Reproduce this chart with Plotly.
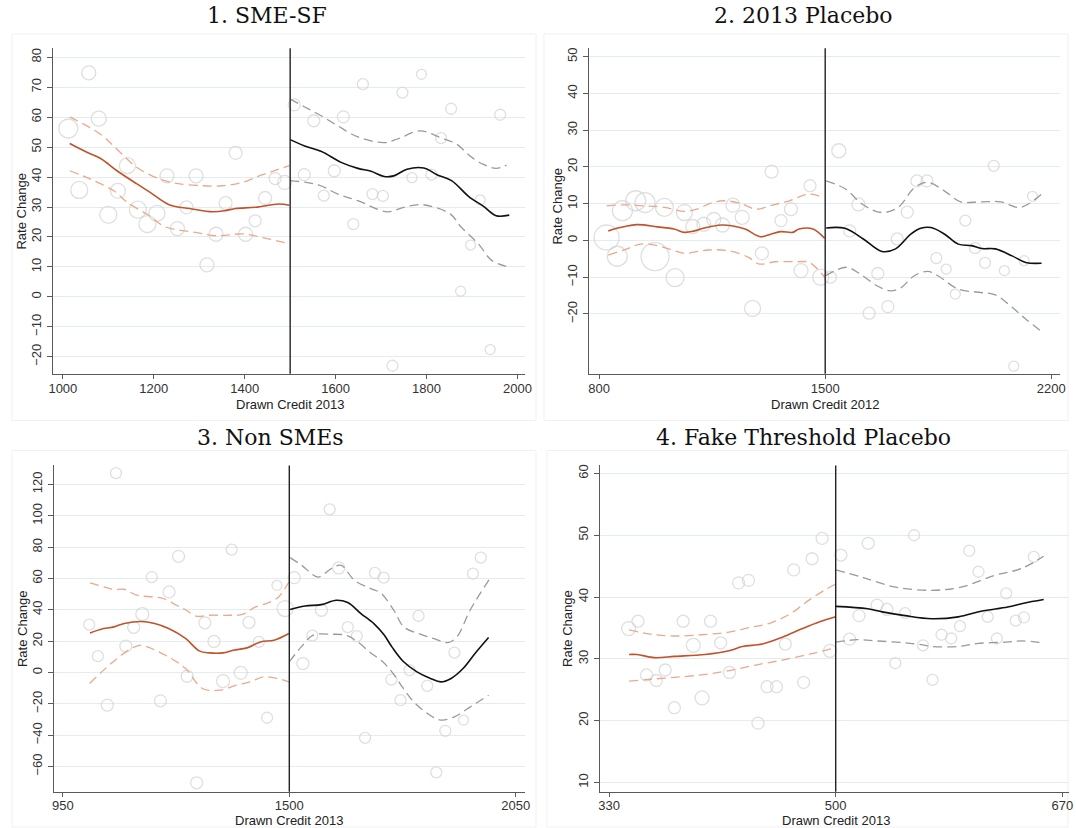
import plotly.graph_objects as go

W, H = 1076, 828

# ---------------- Panel 1: SME-SF ----------------
p1_bx = [1012, 1036, 1057, 1079, 1100, 1121, 1142, 1165, 1186, 1207, 1229, 1252, 1272, 1293, 1317, 1337, 1358, 1380, 1402, 1423, 1445, 1467, 1488,
         1509, 1531, 1552, 1574, 1597, 1617, 1639, 1660, 1681, 1704, 1725, 1747, 1768, 1789, 1811, 1832, 1854, 1875, 1897, 1918, 1940, 1962]
p1_by = [56.2, 35.7, 74.8, 59.5, 27.4, 35.4, 43.8, 29.1, 24.3, 27.9, 40.4, 22.8, 29.9, 40.4, 10.7, 20.9, 31.3, 48.1, 20.9, 25.4, 33.0, 39.5, 38.2,
         64.1, 40.8, 58.8, 33.8, 42.1, 60.1, 24.3, 71.0, 34.3, 33.7, -23.0, 68.2, 39.8, 74.3, 40.8, 53.0, 62.8, 1.9, 17.3, 32.4, -17.6, 60.8]
p1_bw = [19, 17, 14, 15, 17, 15, 16, 17, 17, 16, 14, 14, 13, 14, 14, 14, 13, 13, 14, 12, 13, 12, 14,
         12, 12, 12, 11, 12, 12, 11, 11, 11, 11, 11, 11, 10, 10, 11, 11, 11, 10, 10, 10, 10, 11]
p1_L_fit_x = [1015, 1054, 1083, 1119, 1163, 1192, 1235, 1279, 1330, 1358, 1380, 1424, 1475, 1498]
p1_L_fit_y = [51.2, 48.2, 46.2, 42.1, 37.7, 34.9, 30.7, 29.5, 28.4, 28.8, 29.5, 29.9, 31.0, 30.6]
p1_L_hi_x = [1015, 1083, 1119, 1163, 1214, 1250, 1308, 1351, 1395, 1438, 1498]
p1_L_hi_y = [60.1, 54.3, 49.3, 43.2, 39.3, 37.9, 37.1, 37.1, 38.2, 40.7, 43.8]
p1_L_lo_x = [1015, 1061, 1112, 1142, 1187, 1225, 1292, 1337, 1397, 1442, 1498]
p1_L_lo_y = [42.1, 39.3, 35.4, 31.5, 27.4, 23.4, 21.5, 20.4, 21.0, 19.7, 17.7]
p1_R_fit_x = [1500, 1532, 1569, 1612, 1649, 1678, 1707, 1728, 1757, 1794, 1823, 1855, 1895, 1924, 1953, 1982]
p1_R_fit_y = [52.5, 50.4, 48.5, 44.9, 42.9, 41.9, 40.2, 40.4, 42.6, 43.0, 40.8, 38.8, 33.2, 30.4, 27.1, 27.3]
p1_R_hi_x = [1500, 1532, 1569, 1605, 1649, 1707, 1736, 1786, 1830, 1866, 1895, 1924, 1953, 1976]
p1_R_hi_y = [66.0, 63.4, 60.4, 57.1, 53.4, 51.5, 52.7, 55.4, 53.2, 51.0, 47.1, 44.3, 42.9, 44.0]
p1_R_lo_x = [1500, 1562, 1605, 1649, 1714, 1750, 1790, 1852, 1875, 1914, 1944, 1984]
p1_R_lo_y = [38.8, 37.4, 34.3, 32.1, 28.4, 29.9, 30.8, 27.7, 23.5, 17.7, 12.1, 9.9]

# ---------------- Panel 2: 2013 Placebo ----------------
p2_bx = [823, 856, 872, 913, 942, 973, 1002, 1035, 1064, 1090, 1124, 1155, 1182, 1214, 1243, 1275, 1304, 1334, 1363, 1394, 1425, 1453, 1486,
         1516, 1542, 1576, 1603, 1636, 1663, 1694, 1723, 1754, 1784, 1815, 1844, 1875, 1903, 1934, 1964, 1995, 2022, 2055, 2084, 2116, 2142]
p2_by = [0.8, -4.3, 8.1, 10.8, 10.3, -4.4, 9.0, -10.1, 7.6, 3.8, 4.4, 5.7, 4.2, 9.6, 6.3, -18.5, -3.5, 18.7, 5.4, 8.5, -8.2, 14.9, -10.0,
         -10.0, 24.4, 2.6, 9.8, -19.8, -9.0, -18.0, 0.4, 7.7, 16.2, 16.2, -4.8, -7.8, -14.6, 5.4, -2.1, -6.1, 20.3, -8.2, -34.2, -5.5, 12.0]
p2_bw = [25, 20, 20, 20, 20, 28, 18, 18, 16, 14, 14, 14, 14, 14, 14, 16, 13, 13, 12, 13, 14, 12, 16,
         12, 14, 12, 13, 12, 12, 12, 12, 12, 12, 12, 11, 10, 10, 11, 11, 11, 11, 10, 10, 10, 10]
p2_L_fit_x = [828, 865, 917, 980, 1032, 1064, 1095, 1126, 1179, 1210, 1252, 1299, 1331, 1362, 1399, 1419, 1462, 1498]
p2_L_fit_y = [2.6, 3.5, 4.3, 3.7, 3.1, 2.2, 2.6, 3.4, 4.2, 4.0, 3.1, 1.0, 1.7, 2.4, 2.2, 3.1, 3.1, 0.6]
p2_L_hi_x = [823, 879, 940, 1002, 1063, 1103, 1144, 1185, 1236, 1287, 1328, 1389, 1450, 1493]
p2_L_hi_y = [9.4, 9.7, 9.4, 9.0, 7.9, 8.5, 10.1, 10.8, 10.1, 8.5, 9.4, 10.8, 12.6, 11.7]
p2_L_lo_x = [828, 886, 928, 980, 1032, 1064, 1137, 1200, 1263, 1294, 1346, 1409, 1451, 1498]
p2_L_lo_y = [-4.0, -2.3, -1.0, -1.4, -2.8, -3.5, -2.6, -2.8, -4.6, -6.4, -5.8, -5.8, -6.0, -10.0]
p2_R_fit_x = [1503, 1561, 1618, 1676, 1718, 1765, 1796, 1828, 1870, 1912, 1953, 1985, 2027, 2079, 2121, 2170]
p2_R_fit_y = [3.4, 3.3, 0.4, -3.0, -2.3, 1.7, 3.3, 3.5, 1.7, -1.0, -1.4, -2.2, -2.3, -4.2, -6.0, -6.2]
p2_R_hi_x = [1502, 1563, 1614, 1675, 1726, 1777, 1818, 1869, 1920, 1981, 2043, 2104, 2170]
p2_R_hi_y = [16.2, 14.0, 9.9, 7.6, 9.0, 14.4, 15.8, 13.5, 10.5, 10.5, 10.5, 9.0, 12.6]
p2_R_lo_x = [1501, 1566, 1608, 1660, 1702, 1734, 1776, 1817, 1849, 1911, 1974, 2027, 2079, 2121, 2170]
p2_R_lo_y = [-9.6, -7.3, -9.1, -12.3, -13.7, -12.9, -9.6, -8.4, -9.6, -13.2, -14.1, -14.8, -18.2, -21.4, -24.8]

# ---------------- Panel 3: Non SMEs ----------------
p3_bx = [1014, 1035, 1058, 1079, 1103, 1122, 1143, 1166, 1187, 1208, 1231, 1252, 1275, 1295, 1317, 1339, 1360, 1382, 1402, 1426, 1446, 1470, 1490,
         1512, 1533, 1556, 1578, 1598, 1620, 1642, 1664, 1684, 1708, 1729, 1748, 1770, 1792, 1814, 1835, 1857, 1879, 1901, 1923, 1946, 1965]
p3_by = [30.5, 10.4, -20.8, 127.2, 16.8, 28.8, 37.2, 60.9, -18.1, 51.4, 74.1, -2.4, -70.4, 31.7, 19.8, -5.5, 78.4, -0.2, 32.0, 19.5, -28.9, 55.6, 40.8,
         60.5, 5.7, 23.5, 39.7, 104.1, 66.7, 28.9, 23.2, -41.7, 63.5, 60.5, -4.5, -17.7, 1.5, 36.1, -8.5, -63.7, -37.2, 12.7, -30.4, 63.1, 73.3]
p3_bw = [11, 11, 12, 11, 12, 12, 13, 11, 12, 12, 12, 12, 12, 12, 12, 13, 11, 13, 12, 11, 11, 10, 16,
         12, 12, 11, 12, 11, 12, 11, 11, 11, 11, 11, 11, 11, 11, 11, 11, 11, 11, 11, 10, 11, 11]
p3_L_fit_x = [1016, 1049, 1074, 1099, 1140, 1173, 1207, 1248, 1281, 1306, 1339, 1364, 1397, 1430, 1463, 1499]
p3_L_fit_y = [25.2, 28.0, 29.1, 31.2, 32.5, 31.2, 28.0, 21.7, 13.8, 12.5, 12.5, 14.2, 15.7, 19.5, 20.6, 24.9]
p3_L_hi_x = [1016, 1050, 1074, 1098, 1130, 1170, 1194, 1226, 1250, 1274, 1306, 1354, 1386, 1418, 1450, 1474, 1499]
p3_L_hi_y = [57.1, 54.6, 52.9, 53.1, 49.3, 48.2, 47.2, 42.9, 39.7, 35.9, 36.5, 36.5, 37.0, 41.8, 44.6, 48.2, 57.7]
p3_L_lo_x = [1015, 1049, 1082, 1116, 1140, 1165, 1207, 1248, 1289, 1330, 1372, 1405, 1438, 1471, 1499]
p3_L_lo_y = [-7.0, 1.5, 8.9, 15.3, 17.4, 15.3, 9.9, 2.5, -10.2, -11.3, -8.1, -6.0, -2.8, -3.8, -6.0]
p3_R_fit_x = [1502, 1538, 1578, 1614, 1642, 1674, 1706, 1730, 1750, 1777, 1810, 1843, 1868, 1893, 1922, 1951, 1984]
p3_R_fit_y = [40.2, 42.4, 43.3, 46.1, 44.6, 37.6, 31.0, 24.0, 16.0, 7.0, 0.4, -3.8, -6.0, -3.8, 2.5, 12.1, 22.3]
p3_R_hi_x = [1502, 1530, 1570, 1602, 1626, 1658, 1698, 1722, 1754, 1778, 1818, 1850, 1885, 1907, 1939, 1987]
p3_R_hi_y = [73.3, 68.4, 60.9, 66.3, 68.4, 58.8, 53.5, 50.7, 39.7, 29.1, 24.4, 21.7, 19.1, 22.7, 39.7, 59.9]
p3_R_lo_x = [1500, 1529, 1558, 1604, 1637, 1661, 1695, 1727, 1752, 1777, 1802, 1835, 1868, 1901, 1934, 1984]
p3_R_lo_y = [6.8, 16.3, 23.8, 24.4, 23.8, 20.6, 13.1, 6.8, -0.6, -10.2, -18.7, -26.1, -30.4, -28.3, -22.9, -14.5]

# ---------------- Panel 4: Fake Threshold Placebo ----------------
p4_bx = [344.7, 351.7, 358.1, 365.5, 372.1, 379.0, 385.6, 393.2, 399.8, 406.1, 413.7, 420.3, 427.2, 434.6, 441.7, 448.5, 455.6, 462.2, 468.5, 475.9, 482.3, 489.8, 495.7,
         503.9, 510.4, 517.5, 524.4, 531.1, 538.5, 544.7, 552.1, 558.8, 565.5, 572.6, 579.4, 586.6, 593.2, 600.2, 607.1, 614.0, 620.9, 627.9, 635.0, 641.2, 648.6]
p4_by = [34.9, 36.1, 27.4, 26.5, 28.2, 22.1, 36.1, 32.2, 23.7, 36.1, 32.6, 27.8, 42.3, 42.7, 19.6, 25.5, 25.5, 32.4, 44.4, 26.2, 46.2, 49.5, 31.3,
         46.8, 33.2, 37.0, 48.7, 38.7, 38.0, 29.3, 37.4, 50.0, 32.2, 26.6, 33.9, 33.3, 35.3, 47.5, 44.1, 36.8, 33.3, 40.6, 36.2, 36.7, 46.5]
p4_bw = [14, 12, 12, 12, 12, 12, 12, 14, 14, 12, 12, 12, 12, 12, 12, 12, 12, 12, 12, 12, 12, 12, 13,
         12, 12, 12, 12, 12, 12, 11, 11, 11, 11, 11, 11, 11, 11, 11, 11, 11, 11, 11, 11, 11, 11]
p4_L_fit_x = [345, 351, 364, 379, 402, 420, 430, 445, 460, 475, 488, 500]
p4_L_fit_y = [30.7, 30.7, 30.2, 30.4, 30.7, 31.3, 32.0, 32.4, 33.5, 34.9, 36.0, 36.8]
p4_L_hi_x = [345, 361, 379, 399, 419, 436, 451, 466, 480, 493, 500]
p4_L_hi_y = [34.7, 34.0, 33.7, 33.9, 34.3, 35.1, 35.8, 37.3, 39.5, 41.3, 42.1]
p4_L_lo_x = [345, 361, 379, 399, 420, 440, 460, 481, 498]
p4_L_lo_y = [26.4, 26.7, 27.0, 27.4, 28.1, 29.0, 29.8, 30.8, 31.7]
p4_R_fit_x = [500, 524, 535, 552, 572, 592, 609, 629, 641, 656]
p4_R_fit_y = [38.5, 38.1, 37.6, 37.0, 36.5, 36.8, 37.7, 38.4, 39.0, 39.6]
p4_R_hi_x = [500, 520, 545, 572, 594, 619, 639, 656]
p4_R_hi_y = [44.4, 43.2, 41.6, 41.1, 41.6, 43.5, 44.6, 46.6]
p4_R_lo_x = [500, 516, 531, 552, 564, 572, 592, 607, 628, 640, 655]
p4_R_lo_y = [32.7, 33.1, 32.9, 32.6, 32.3, 32.0, 32.0, 32.5, 32.7, 32.9, 32.6]

titles = ["1. SME-SF", "2. 2013 Placebo", "3. Non SMEs", "4. Fake Threshold Placebo"]
xtitles = ["Drawn Credit 2013", "Drawn Credit 2012", "Drawn Credit 2013", "Drawn Credit 2013"]
cutoffs = [1500, 1500, 1500, 500]
xtickvals = [[1000, 1200, 1400, 1600, 1800, 2000], [800, 1500, 2200], [950, 1500, 2050], [330, 500, 670]]
ytickvals = [list(range(-20, 81, 10)), list(range(-20, 51, 10)), list(range(-60, 121, 20)), list(range(10, 61, 10))]

# ---------------- styling / layout (pixels) ----------------
ORANGE = "#c0532b"
ORANGE_LT = "#eaa98b"
GRAY_D = "#9a9a9a"
MARK = "#d2d2d2"
AX = "#5a5a5a"
GRID = "#e3ecef"
SANS = "Liberation Sans, Arial, sans-serif"
SERIF = "DejaVu Serif, Liberation Serif, serif"

panels = [
    dict(bx=p1_bx, by=p1_by, bw=p1_bw,
         lines=[(p1_L_fit_x, p1_L_fit_y, ORANGE, "solid"), (p1_L_hi_x, p1_L_hi_y, ORANGE_LT, "dash"), (p1_L_lo_x, p1_L_lo_y, ORANGE_LT, "dash"),
                (p1_R_fit_x, p1_R_fit_y, "#111111", "solid"), (p1_R_hi_x, p1_R_hi_y, GRAY_D, "dash"), (p1_R_lo_x, p1_R_lo_y, GRAY_D, "dash")],
         dom=(49, 525.8, 47.3, 373.3), xr=(979.3, 2016.5), yr=(-25.7, 83.0),
         title=(265, 15), xt=(288, 404), yt=(17, 210), box=(7, 33, 537, 420)),
    dict(bx=p2_bx, by=p2_by, bw=p2_bw,
         lines=[(p2_L_fit_x, p2_L_fit_y, ORANGE, "solid"), (p2_L_hi_x, p2_L_hi_y, ORANGE_LT, "dash"), (p2_L_lo_x, p2_L_lo_y, ORANGE_LT, "dash"),
                (p2_R_fit_x, p2_R_fit_y, "#111111", "solid"), (p2_R_hi_x, p2_R_hi_y, GRAY_D, "dash"), (p2_R_lo_x, p2_R_lo_y, GRAY_D, "dash")],
         dom=(590.7, 1066.5, 47.3, 373.3), xr=(768.8, 2226), yr=(-36.3, 52.3),
         title=(808, 15), xt=(829, 404), yt=(559, 205), box=(545, 33, 1075, 420)),
    dict(bx=p3_bx, by=p3_by, bw=p3_bw,
         lines=[(p3_L_fit_x, p3_L_fit_y, ORANGE, "solid"), (p3_L_hi_x, p3_L_hi_y, ORANGE_LT, "dash"), (p3_L_lo_x, p3_L_lo_y, ORANGE_LT, "dash"),
                (p3_R_fit_x, p3_R_fit_y, "#111111", "solid"), (p3_R_hi_x, p3_R_hi_y, GRAY_D, "dash"), (p3_R_lo_x, p3_R_lo_y, GRAY_D, "dash")],
         dom=(50, 525.8, 465, 791.7), xr=(929.6, 2072.3), yr=(-76.1, 132.1),
         title=(268, 437), xt=(287, 820.5), yt=(17, 628), box=(7, 450, 537, 827)),
    dict(bx=p4_bx, by=p4_by, bw=p4_bw,
         lines=[(p4_L_fit_x, p4_L_fit_y, ORANGE, "solid"), (p4_L_hi_x, p4_L_hi_y, ORANGE_LT, "dash"), (p4_L_lo_x, p4_L_lo_y, ORANGE_LT, "dash"),
                (p4_R_fit_x, p4_R_fit_y, "#111111", "solid"), (p4_R_hi_x, p4_R_hi_y, GRAY_D, "dash"), (p4_R_lo_x, p4_R_lo_y, GRAY_D, "dash")],
         dom=(601.7, 1076, 465, 791.7), xr=(323.2, 675.0), yr=(8.5, 61.3),
         title=(808, 437), xt=(840, 820.5), yt=(569, 628), box=(548, 450, 1075, 827)),
]


def fx(p):
    return p / W


def fy(p):
    return 1 - p / H


fig = go.Figure()
layout = dict(width=W, height=H, margin=dict(l=0, r=0, t=0, b=0),
              paper_bgcolor="white", plot_bgcolor="white", showlegend=False)
annotations = []
shapes = []

for i, pn in enumerate(panels):
    n = i + 1
    xa = "x" if n == 1 else f"x{n}"
    ya = "y" if n == 1 else f"y{n}"
    l, r, t, b = pn["dom"]
    layout["xaxis" if n == 1 else f"xaxis{n}"] = dict(
        domain=[fx(l), fx(r)], range=list(pn["xr"]), anchor=ya,
        showline=True, linecolor=AX, linewidth=1.3, mirror=False,
        ticks="outside", ticklen=4, tickcolor=AX, tickwidth=1, ticklabelstandoff=-2,
        tickvals=xtickvals[i], showgrid=False, zeroline=False,
        tickfont=dict(family=SANS, size=13, color="#333"))
    layout["yaxis" if n == 1 else f"yaxis{n}"] = dict(
        domain=[fy(b), fy(t)], range=list(pn["yr"]), anchor=xa,
        showline=True, linecolor=AX, linewidth=1.3,
        ticks="outside", ticklen=5, tickcolor=AX, tickwidth=1, ticklabelstandoff=1,
        tickvals=ytickvals[i], tickangle=-90, showgrid=True, gridcolor=GRID, gridwidth=1,
        zeroline=False, tickfont=dict(family=SANS, size=13, color="#333"))

    fig.add_trace(go.Scatter(
        x=pn["bx"], y=pn["by"], mode="markers", xaxis=xa, yaxis=ya,
        marker=dict(symbol="circle-open", size=[w * 1.0 for w in pn["bw"]], color=MARK,
                    line=dict(width=1.3, color=MARK)),
        hoverinfo="skip"))
    for lx, ly, col, dash in pn["lines"]:
        fig.add_trace(go.Scatter(
            x=lx, y=ly, mode="lines", xaxis=xa, yaxis=ya, line_shape="spline",
            line=dict(color=col, width=1.6 if dash == "solid" else 1.3,
                      dash="solid" if dash == "solid" else "9px,5px"),
            hoverinfo="skip"))

    # threshold line
    shapes.append(dict(type="line", xref=xa, yref=f"{ya} domain", x0=cutoffs[i], x1=cutoffs[i],
                       y0=0, y1=1, line=dict(color="#222", width=1.4)))
    # faint graph-region box
    bl, bt, br, bb = pn["box"]
    shapes.append(dict(type="rect", xref="paper", yref="paper", x0=fx(bl), x1=fx(br), y0=fy(bb), y1=fy(bt),
                       line=dict(color="#f1f1f1", width=1), layer="below"))

    annotations.append(dict(text=titles[i], x=fx(pn["title"][0]), y=fy(pn["title"][1]), xref="paper", yref="paper",
                            showarrow=False, xanchor="center", yanchor="middle",
                            font=dict(family=SERIF, size=22, color="#111")))
    annotations.append(dict(text=xtitles[i], x=fx(pn["xt"][0]), y=fy(pn["xt"][1]), xref="paper", yref="paper",
                            showarrow=False, xanchor="center", yanchor="middle",
                            font=dict(family=SANS, size=13, color="#222")))
    annotations.append(dict(text="Rate Change", x=fx(pn["yt"][0]), y=fy(pn["yt"][1]), xref="paper", yref="paper",
                            showarrow=False, xanchor="center", yanchor="middle", textangle=-90,
                            font=dict(family=SANS, size=13, color="#222")))

layout["annotations"] = annotations
layout["shapes"] = shapes
fig.update_layout(**layout)

fig.write_html("out.html", config={"displayModeBar": False},
               post_script="document.body.style.margin='0';document.body.style.overflow='hidden';")
